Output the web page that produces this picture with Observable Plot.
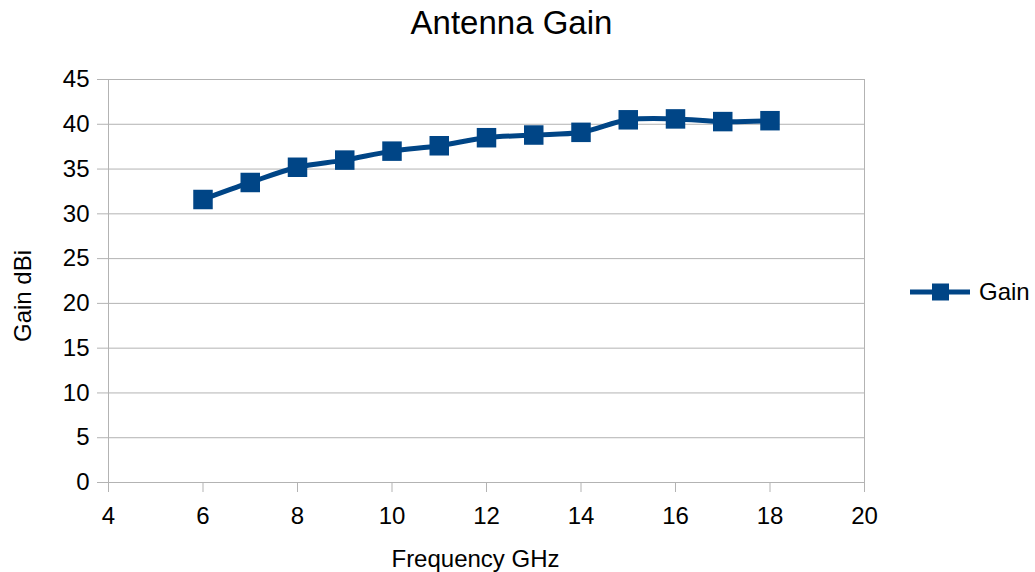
<!DOCTYPE html>
<html>
<head>
<meta charset="utf-8">
<script src="https://cdn.jsdelivr.net/npm/d3@7"></script>
<script src="https://cdn.jsdelivr.net/npm/@observablehq/plot@0.6"></script>
<style>
  body { margin: 0; background: #fff; font-family: "Liberation Sans", Arial, sans-serif; }
  #wrap { position: relative; width: 1035px; height: 572px; overflow: hidden; }
  #title { position: absolute; top: 4px; left: 0; width: 1023px; text-align: center; font-size: 33px; color: #000; line-height: 38px; }
  #legend { position: absolute; left: 910px; top: 278px; height: 28px; display: flex; align-items: center; font-size: 24px; color: #000; }
  #chart { position: absolute; left: 0; top: 0; }
</style>
</head>
<body>
<div id="wrap">
  <div id="chart"></div>
  <div id="title">Antenna Gain</div>
  <div id="legend">
    <svg width="60" height="20"><line x1="0" y1="10" x2="60" y2="10" stroke="#004586" stroke-width="5"/><rect x="22" y="1.5" width="17" height="17" fill="#004586"/></svg>
    <span style="margin-left:9px">Gain</span>
  </div>
</div>
<script>
const frequency = [6, 7, 8, 9, 10, 11, 12, 13, 14, 15, 16, 17, 18];
const gain = [31.6, 33.5, 35.2, 36.0, 37.0, 37.6, 38.5, 38.8, 39.1, 40.5, 40.6, 40.3, 40.4];
const xTicks = [4, 6, 8, 10, 12, 14, 16, 18, 20];
const yTicks = [0, 5, 10, 15, 20, 25, 30, 35, 40, 45];

const data = frequency.map((f, i) => ({f, g: gain[i]}));
const blue = "#004586";
const grey = "#b3b3b3";

const chart = Plot.plot({
  width: 1035,
  height: 572,
  marginLeft: 108,
  marginRight: 171,
  marginTop: 79,
  marginBottom: 90,
  style: {fontFamily: "Liberation Sans, Arial, sans-serif", background: "white", color: "#000"},
  x: {domain: [4, 20]},
  y: {domain: [0, 45]},
  marks: [
    Plot.gridY(yTicks, {stroke: grey, strokeOpacity: 1, strokeWidth: 1}),
    Plot.ruleX([4, 20], {stroke: grey, strokeWidth: 1}),
    Plot.axisX({ticks: xTicks, tickSize: 10, tickPadding: 14, fontSize: 24, stroke: grey, label: null, tickFormat: d => String(d), fill: "#000"}),
    Plot.axisY({ticks: yTicks, tickSize: 11, tickPadding: 8, fontSize: 24, stroke: grey, label: null, tickFormat: d => String(d), fill: "#000"}),
    Plot.text(["Frequency GHz"], {frameAnchor: "bottom", lineAnchor: "middle", textAnchor: "middle", dy: 77, dx: -11, fontSize: 24, fill: "#000"}),
    Plot.text(["Gain dBi"], {frameAnchor: "left", textAnchor: "middle", dx: -85, dy: 15, rotate: -90, fontSize: 24, fill: "#000"}),
    Plot.line(data, {x: "f", y: "g", stroke: blue, strokeWidth: 5, curve: "catmull-rom"}),
    Plot.dot(data, {x: "f", y: "g", symbol: "square", r: 11, fill: blue, stroke: "none"})
  ]
});
document.getElementById("chart").appendChild(chart);
</script>
</body>
</html>
